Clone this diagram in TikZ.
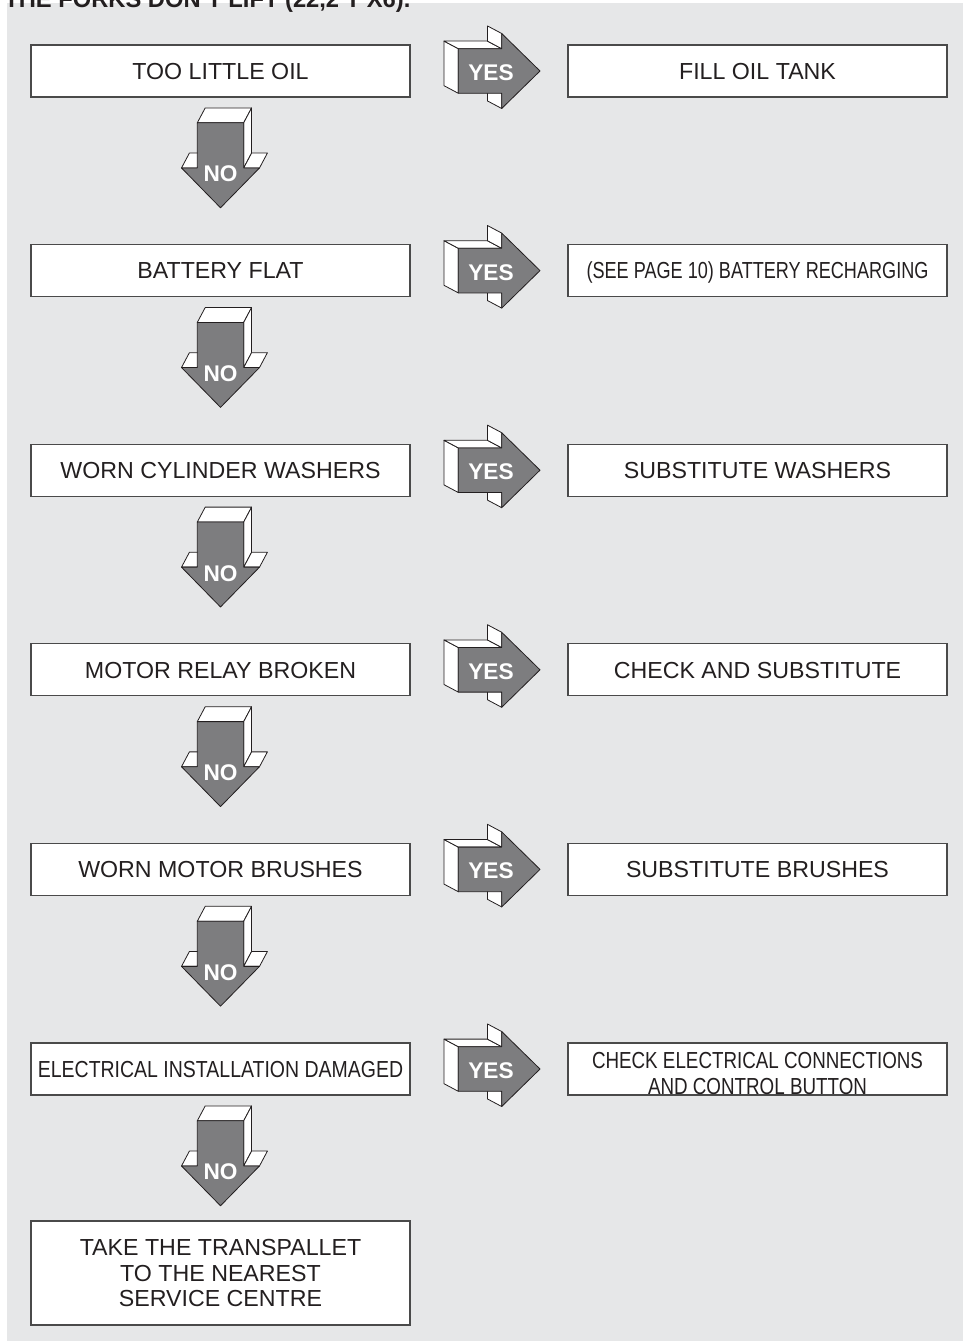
\documentclass[tikz,border=0pt]{standalone}
\usepackage{fontspec}
\setmainfont{Liberation Sans}
\usetikzlibrary{positioning, calc}

\definecolor{panelgray}{HTML}{E6E7E8}
\definecolor{arrowgray}{HTML}{7D7D7F}
\definecolor{edgegray}{HTML}{4A4A4A}
\definecolor{inkblack}{HTML}{231F20}

\newcommand{\squeeze}[2]{\scalebox{#1}[1]{#2}}

\tikzset{
  fat arrow/.pic={
    \begin{scope}[draw=inkblack, line width=0.6pt, line join=round]
      % white sides, seen from the upper left
      \filldraw[fill=white] (-30.7,-22.3) -- (-30.7,22.3) -- ++(-14.3,-7.6) -- ++(0,-44.6) -- cycle;
      \filldraw[fill=white] (-30.7,-22.3) -- (12.7,-22.3) -- ++(-14.3,-7.6) -- ++(-43.4,0) -- cycle;
      \filldraw[fill=white] (12.7,-37.5) -- (12.7,-22.3) -- ++(-14.3,-7.6) -- ++(0,-15.2) -- cycle;
      \filldraw[fill=white] (12.7,22.3) -- (12.7,37.5) -- ++(-14.3,-7.6) -- ++(0,-15.2) -- cycle;
      % front face
      \filldraw[fill=arrowgray] (-30.7,-22.3) -- (12.7,-22.3) -- (12.7,-37.5) -- (51,0)
        -- (12.7,37.5) -- (12.7,22.3) -- (-30.7,22.3) -- cycle;
    \end{scope}
  }
}

\begin{document}
\begin{tikzpicture}[x=0.75pt, y=-0.75pt, node distance=110.7pt and 118.5pt,
    box/.style={draw=edgegray, line width=0.9pt, fill=white, text=inkblack, outer sep=0pt,
      minimum width=284.25pt, minimum height=39pt, inner sep=0pt,
      font=\fontsize{17.4}{19.5}\selectfont, text height=12.4pt, text depth=0pt},
    tallbox/.style={draw=edgegray, line width=0.9pt, fill=white, text=inkblack, outer sep=0pt,
      minimum width=284.25pt, minimum height=78pt, inner sep=0pt, align=center,
      font=\fontsize{17.4}{19.3}\selectfont},
    tag/.style={text=white, inner sep=0pt, font=\bfseries\fontsize{17}{17}\selectfont,
      text height=12.2pt, text depth=0pt}]

\useasboundingbox (0,0) rectangle (963,1341);
\fill[panelgray] (7,3) rectangle (963,1341);

\node[anchor=base west, inner sep=0pt, text=inkblack, font=\bfseries\fontsize{17.8}{20}\selectfont]
  (title) at (4,7.5) {THE FORKS DON'T LIFT (22,2 T X6).};

\node[box]                     (c1) at (220.5,71) {TOO LITTLE OIL};
\node[box, below=of c1]        (c2) {BATTERY FLAT};
\node[box, below=of c2]        (c3) {WORN CYLINDER WASHERS};
\node[box, below=of c3]        (c4) {MOTOR RELAY BROKEN};
\node[box, below=of c4]        (c5) {WORN MOTOR BRUSHES};
\node[box, below=of c5]        (c6) {\squeeze{0.84}{ELECTRICAL INSTALLATION DAMAGED}};
\node[tallbox, below=94.5pt of c6] (svc) {\rule{0pt}{5pt}TAKE THE TRANSPALLET\\TO THE NEAREST\\SERVICE CENTRE};

\node[box, right=of c1]        (r1) {FILL OIL TANK};
\node[box, right=of c2]        (r2) {\squeeze{0.78}{(SEE PAGE 10) BATTERY RECHARGING}};
\node[box, right=of c3]        (r3) {SUBSTITUTE WASHERS};
\node[box, right=of c4]        (r4) {CHECK AND SUBSTITUTE};
\node[box, right=of c5]        (r5) {SUBSTITUTE BRUSHES};
\node[box, right=of c6]        (r6) {};
\node[inner sep=0pt, align=center, text=inkblack, font=\fontsize{17.4}{19.7}\selectfont]
  (r6text) at ([yshift=-3.5pt]r6.center)
  {\squeeze{0.81}{CHECK ELECTRICAL CONNECTIONS}\\\squeeze{0.81}{AND CONTROL BUTTON}};

\foreach \i in {1,...,6}{
  \pic at ($(c\i.east)!0.5!(r\i.west)$) {fat arrow};
  \node[tag] (yes\i) at ([xshift=1.5pt, yshift=-1pt]$(c\i.east)!0.5!(r\i.west)$) {YES};
  \pic[rotate=-90, scale=1.04] at ([yshift=-43.3pt]c\i.south) {fat arrow};
  \node[tag] (no\i) at ([yshift=-57.5pt]c\i.south) {NO};
}
\end{tikzpicture}
\end{document}
